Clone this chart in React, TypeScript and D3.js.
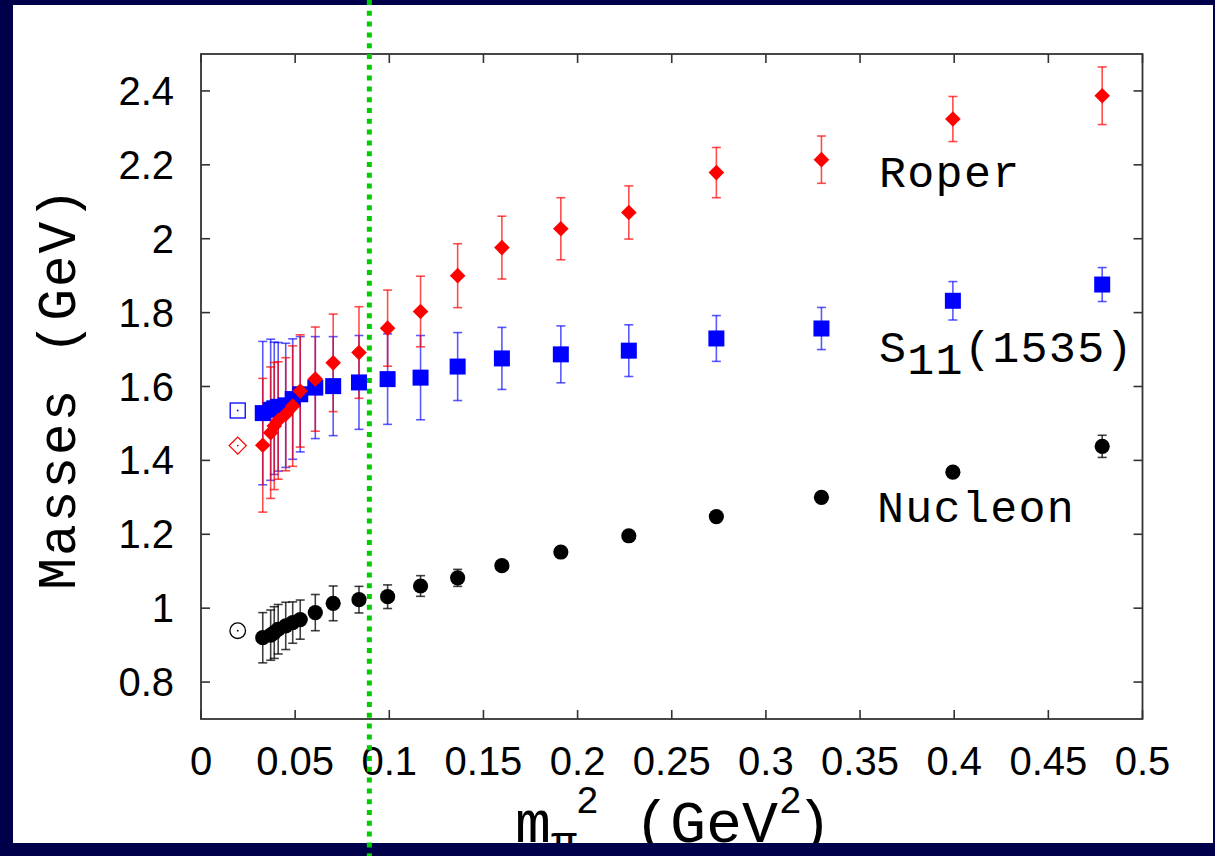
import React from "react";
import * as d3 from "d3";

// ---- data ----
const mpi2 = [0.0328, 0.037, 0.0389, 0.041, 0.045, 0.0487, 0.0527, 0.0607, 0.0702, 0.0839, 0.0991, 0.1166, 0.1363, 0.1598, 0.1911, 0.2272, 0.2737, 0.3295, 0.3993, 0.4786];
const nucleonMass = [0.92, 0.927, 0.934, 0.943, 0.952, 0.961, 0.969, 0.988, 1.013, 1.023, 1.031, 1.06, 1.082, 1.115, 1.152, 1.196, 1.248, 1.3, 1.368, 1.438];
const nucleonErr = [0.068, 0.068, 0.07, 0.067, 0.064, 0.056, 0.053, 0.049, 0.047, 0.036, 0.032, 0.028, 0.023, 0.012, 0.01, 0.008, 0.008, 0.008, 0.01, 0.03];
const s11Mass = [1.528, 1.537, 1.541, 1.545, 1.549, 1.566, 1.579, 1.597, 1.601, 1.611, 1.62, 1.624, 1.654, 1.676, 1.687, 1.697, 1.73, 1.757, 1.832, 1.876];
const s11Err = [0.194, 0.191, 0.179, 0.174, 0.168, 0.163, 0.156, 0.138, 0.134, 0.127, 0.1225, 0.114, 0.092, 0.084, 0.077, 0.07, 0.062, 0.057, 0.052, 0.046];
const roperMass = [1.441, 1.475, 1.493, 1.508, 1.525, 1.547, 1.588, 1.62, 1.664, 1.692, 1.758, 1.803, 1.9, 1.976, 2.027, 2.071, 2.179, 2.214, 2.324, 2.387];
const roperErr = [0.181, 0.178, 0.172, 0.159, 0.153, 0.163, 0.152, 0.141, 0.132, 0.124, 0.103, 0.0955, 0.0865, 0.085, 0.084, 0.072, 0.068, 0.064, 0.061, 0.078];

const physX = 0.0195;
const physNucleon = 0.939;
const physS11 = 1.535;
const physRoper = 1.44;
const greenLineX = 0.0894;

const xTicks = [0, 0.05, 0.1, 0.15, 0.2, 0.25, 0.3, 0.35, 0.4, 0.45, 0.5];
const xTickLabels = ["0", "0.05", "0.1", "0.15", "0.2", "0.25", "0.3", "0.35", "0.4", "0.45", "0.5"];
const yTicks = [0.8, 1.0, 1.2, 1.4, 1.6, 1.8, 2.0, 2.2, 2.4];
const yTickLabels = ["0.8", "1", "1.2", "1.4", "1.6", "1.8", "2", "2.2", "2.4"];

const W = 1215;
const H = 856;
const NAVY = "#00004a";
const MONO = "'Liberation Mono', 'Courier New', monospace";
const SANS = "'Liberation Sans', Arial, Helvetica, sans-serif";

export default function App() {
  const left = 201, right = 1142.5, top = 54, bottom = 719;
  const x = d3.scaleLinear().domain([0, 0.5]).range([left, right]);
  const y = d3.scaleLinear().domain([0.7, 2.5]).range([bottom, top]);
  const tickLen = 9;
  const cap = 4.5;

  const errBars = (mass: number[], err: number[], color: string, op: number, key: string) =>
    mpi2.map((m, i) => {
      const cx = x(m);
      const y1 = y(mass[i] + err[i]);
      const y2 = y(mass[i] - err[i]);
      return (
        <g key={key + i} stroke={color} strokeWidth={1.6} strokeOpacity={op}>
          <line x1={cx} x2={cx} y1={y1} y2={y2} />
          <line x1={cx - cap} x2={cx + cap} y1={y1} y2={y1} />
          <line x1={cx - cap} x2={cx + cap} y1={y2} y2={y2} />
        </g>
      );
    });

  const dpath = (r: number) => `M0,${-r}L${r},0L0,${r}L${-r},0Z`;

  return (
    <svg width={W} height={H} style={{ position: "absolute", left: 0, top: 0, display: "block" }}>
      <rect x={0} y={0} width={W} height={H} fill={NAVY} />
      <rect x={13} y={5} width={1200} height={838} fill="#ffffff" />

      {/* frame */}
      <rect x={left} y={top} width={right - left} height={bottom - top} fill="none" stroke="#333" strokeWidth={1.8} />
      {/* ticks */}
      <g stroke="#333" strokeWidth={1.6}>
        {xTicks.map((t, i) => (
          <g key={"xt" + i}>
            <line x1={x(t)} x2={x(t)} y1={bottom} y2={bottom - tickLen} />
            <line x1={x(t)} x2={x(t)} y1={top} y2={top + tickLen} />
          </g>
        ))}
        {yTicks.map((t, i) => (
          <g key={"yt" + i}>
            <line x1={left} x2={left + tickLen} y1={y(t)} y2={y(t)} />
            <line x1={right} x2={right - tickLen} y1={y(t)} y2={y(t)} />
          </g>
        ))}
      </g>
      {/* tick labels */}
      <g fontFamily={SANS} fontSize={40} fill="#000">
        {xTicks.map((t, i) => (
          <text key={"xl" + i} x={x(t)} y={775} textAnchor="middle">{xTickLabels[i]}</text>
        ))}
        {yTicks.map((t, i) => (
          <text key={"yl" + i} x={174} y={y(t) + 14} textAnchor="end">{yTickLabels[i]}</text>
        ))}
      </g>

      {/* error bars */}
      {errBars(s11Mass, s11Err, "#0000ff", 0.65, "sb")}
      {errBars(roperMass, roperErr, "#ff0000", 0.7, "rb")}
      {errBars(nucleonMass, nucleonErr, "#000000", 0.75, "nb")}

      {/* S11 squares */}
      {mpi2.map((m, i) => (
        <rect key={"sq" + i} x={x(m) - 8} y={y(s11Mass[i]) - 8} width={16} height={16} fill="#0000ff" />
      ))}
      {/* Roper diamonds */}
      {mpi2.map((m, i) => (
        <path key={"dm" + i} d={dpath(7.8)} transform={`translate(${x(m)},${y(roperMass[i])})`} fill="#ff0000" />
      ))}
      {/* Nucleon circles */}
      {mpi2.map((m, i) => (
        <circle key={"nc" + i} cx={x(m)} cy={y(nucleonMass[i])} r={7.6} fill="#000" />
      ))}

      {/* physical points (open) */}
      <rect x={x(physX) - 7.5} y={y(physS11) - 7.5} width={15} height={15} fill="none" stroke="#0000ff" strokeWidth={1.3} />
      <circle cx={x(physX)} cy={y(physS11)} r={0.9} fill="#0000ff" />
      <path d={dpath(8.5)} transform={`translate(${x(physX)},${y(physRoper)})`} fill="none" stroke="#ff0000" strokeWidth={1.3} />
      <circle cx={x(physX)} cy={y(physRoper)} r={0.9} fill="#ff0000" />
      <circle cx={x(physX)} cy={y(physNucleon)} r={7.8} fill="none" stroke="#000" strokeWidth={1.3} />
      <circle cx={x(physX)} cy={y(physNucleon)} r={0.9} fill="#000" />

      {/* series labels */}
      <g fontFamily={MONO} fontSize={45} letterSpacing={1.3} fill="#000">
        <text x={879} y={187}>Roper</text>
        <text x={879} y={362}>
          S<tspan dy={12}>11</tspan><tspan dy={-12}>(1535)</tspan>
        </text>
        <text x={877} y={522}>Nucleon</text>
      </g>

      {/* y axis label */}
      <text
        transform="translate(75,388) rotate(-90)"
        textAnchor="middle"
        fontFamily={MONO}
        fontSize={53}
        letterSpacing={1.8}
        fill="#000"
      >
        Masses (GeV)
      </text>

      {/* x axis label */}
      <g fontFamily={MONO} fill="#000">
        <text x={515} y={842} fontSize={60}>m</text>
        <text x={551} y={857} fontSize={44}>π</text>
        <text x={576} y={813} fontSize={38}>2</text>
        <text x={634} y={842} fontSize={60}>(GeV</text>
        <text x={779} y={813} fontSize={38}>2</text>
        <text x={796} y={842} fontSize={60}>)</text>
      </g>

      {/* bottom band over the label */}
      <rect x={0} y={843} width={W} height={H - 843} fill={NAVY} />

      {/* green dotted line */}
      <line
        x1={x(greenLineX)}
        x2={x(greenLineX)}
        y1={0}
        y2={H}
        stroke="#00cc00"
        strokeWidth={5}
        strokeDasharray="5 5.8"
      />
    </svg>
  );
}
